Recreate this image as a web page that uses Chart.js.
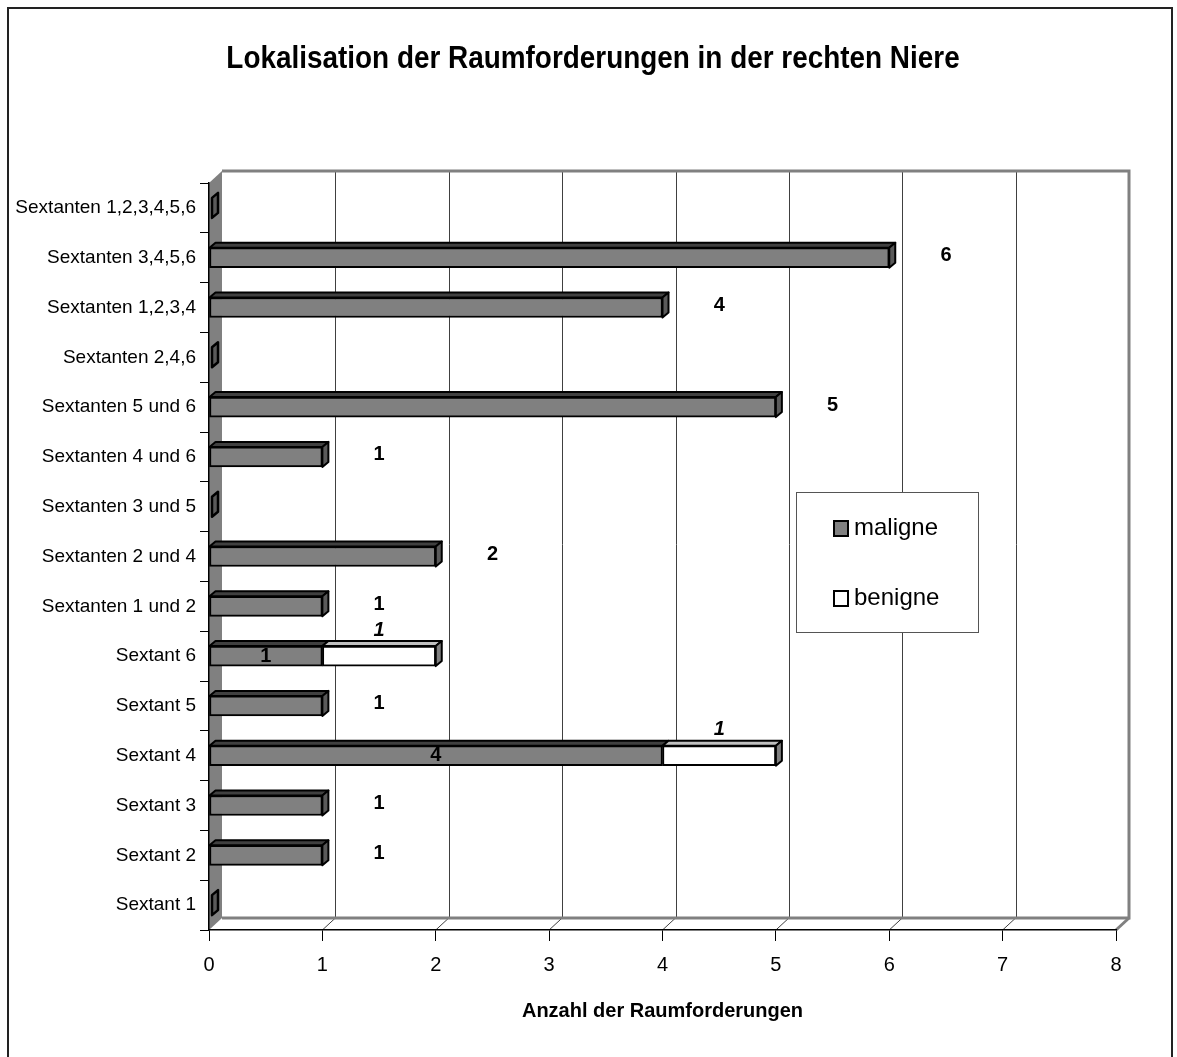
<!DOCTYPE html>
<html><head><meta charset="utf-8">
<script src="https://cdn.jsdelivr.net/npm/chart.js@4.4.0/dist/chart.umd.min.js"></script>
<style>html,body{margin:0;padding:0;background:#fff}#wrap{width:1177px;height:1057px;position:relative}canvas{display:block}</style>
</head><body><div id="wrap"><canvas id="c" width="1177" height="1057"></canvas></div>
<script>
// ---- data ----
const categories = ["Sextant 1","Sextant 2","Sextant 3","Sextant 4","Sextant 5","Sextant 6",
  "Sextanten 1 und 2","Sextanten 2 und 4","Sextanten 3 und 5","Sextanten 4 und 6","Sextanten 5 und 6",
  "Sextanten 2,4,6","Sextanten 1,2,3,4","Sextanten 3,4,5,6","Sextanten 1,2,3,4,5,6"];
const maligne = [0,1,1,4,1,1,1,2,0,1,5,0,4,6,0];
const benigne = [0,0,0,1,0,1,0,0,0,0,0,0,0,0,0];
const xTicks = [0,1,2,3,4,5,6,7,8];
const seriesNames = ["maligne","benigne"];
const chartTitle = "Lokalisation der Raumforderungen in der rechten Niere";
const xAxisTitle = "Anzahl der Raumforderungen";

// ---- style ----
const FONT = "'Liberation Sans', Arial, Helvetica, sans-serif";
const FRONT = ['#808080', '#ffffff'];
const TOP = ['#404040', '#c0c0c0'];
const SIDE = ['#5a5a5a', '#808080'];
const D = {dx: 13, dy: 12};   // chart depth
const B = {dx: 6, dy: 5};     // bar depth

function poly(ctx, pts, fill, stroke, lw) {
  ctx.beginPath();
  pts.forEach((p, i) => i ? ctx.lineTo(p[0], p[1]) : ctx.moveTo(p[0], p[1]));
  ctx.closePath();
  if (fill) { ctx.fillStyle = fill; ctx.fill(); }
  if (stroke) { ctx.strokeStyle = stroke; ctx.lineWidth = lw || 1; ctx.lineJoin = 'round'; ctx.stroke(); }
}
function line(ctx, x1, y1, x2, y2) { ctx.beginPath(); ctx.moveTo(x1, y1); ctx.lineTo(x2, y2); ctx.stroke(); }

const threeD = {
  id: 'threeD',
  beforeDraw(chart) {
    const ctx = chart.ctx, a = chart.chartArea, xs = chart.scales.x;
    ctx.save();
    ctx.fillStyle = '#fff'; ctx.fillRect(0, 0, chart.width, chart.height);
    ctx.strokeStyle = '#222'; ctx.lineWidth = 2; ctx.strokeRect(8, 8, 1164, 1060);
    // title (horizontally condensed like the original)
    ctx.save();
    ctx.translate(593, 59);
    ctx.scale(0.9, 1);
    ctx.fillStyle = '#000'; ctx.font = 'bold 31px ' + FONT;
    ctx.textAlign = 'center'; ctx.textBaseline = 'middle';
    ctx.fillText(chartTitle, 0, 0);
    ctx.restore();
    // back wall grid + floor grid
    ctx.strokeStyle = '#404040'; ctx.lineWidth = 1;
    xTicks.forEach(v => {
      if (v === 0) return;
      const px = xs.getPixelForValue(v);
      const bx = Math.round(px + D.dx) + 0.5;
      line(ctx, bx, a.top - D.dy, bx, a.bottom - D.dy);
      line(ctx, px, a.bottom, px + D.dx, a.bottom - D.dy);
    });
    // wall/floor borders
    ctx.strokeStyle = '#808080'; ctx.lineWidth = 3;
    ctx.beginPath();
    ctx.moveTo(a.left + D.dx, a.top - D.dy);
    ctx.lineTo(a.right + D.dx, a.top - D.dy);
    ctx.lineTo(a.right + D.dx, a.bottom - D.dy);
    ctx.lineTo(a.left + D.dx, a.bottom - D.dy);
    ctx.stroke();
    line(ctx, a.right, a.bottom, a.right + D.dx, a.bottom - D.dy);
    // left wall
    poly(ctx, [[a.left, a.top], [a.left + D.dx, a.top - D.dy], [a.left + D.dx, a.bottom - D.dy], [a.left, a.bottom]], '#808080');
    ctx.restore();
  },
  afterDatasetsDraw(chart) {
    const ctx = chart.ctx, xs = chart.scales.x;
    const metas = chart.data.datasets.map((d, i) => chart.getDatasetMeta(i));
    ctx.save();
    for (let i = 0; i < categories.length; i++) {
      const segs = [];
      chart.data.datasets.forEach((ds, di) => {
        if (ds.data[i] > 0) segs.push({di, p: metas[di].data[i].getProps(['x', 'y', 'base', 'height'], true)});
      });
      if (!segs.length) {
        const p = metas[0].data[i].getProps(['x', 'y', 'height'], true);
        const x0 = p.x + 3, yT = p.y - p.height / 2, yB = p.y + p.height / 2;
        poly(ctx, [[x0, yT], [x0 + B.dx, yT - B.dy], [x0 + B.dx, yB - B.dy], [x0, yB]], SIDE[0], '#000', 2.5);
        continue;
      }
      segs.forEach(s => {
        const p = s.p, yT = p.y - p.height / 2;
        const x0 = Math.min(p.base, p.x), x1 = Math.max(p.base, p.x);
        poly(ctx, [[x0, yT], [x0 + B.dx, yT - B.dy], [x1 + B.dx, yT - B.dy], [x1, yT]], TOP[s.di], '#000', 2);
      });
      const last = segs[segs.length - 1], p = last.p;
      const yT = p.y - p.height / 2, yB = p.y + p.height / 2, x1 = Math.max(p.base, p.x);
      poly(ctx, [[x1, yT], [x1 + B.dx, yT - B.dy], [x1 + B.dx, yB - B.dy], [x1, yB]], SIDE[last.di], '#000', 2);
    }
    // data labels
    ctx.fillStyle = '#000'; ctx.textAlign = 'center'; ctx.textBaseline = 'middle';
    for (let i = 0; i < categories.length; i++) {
      const m = maligne[i], b = benigne[i];
      const y = chart.scales.y.getPixelForValue(i);
      if (m > 0 && b === 0) {
        ctx.font = 'bold 20px ' + FONT;
        ctx.fillText(String(m), xs.getPixelForValue(m + 0.5), y - 2);
      } else if (m > 0 && b > 0) {
        ctx.font = 'bold 20px ' + FONT;
        ctx.fillText(String(m), xs.getPixelForValue(m / 2), y);
        ctx.font = 'italic bold 20px ' + FONT;
        ctx.fillText(String(b), xs.getPixelForValue(m + b / 2), y - 26);
      }
    }
    ctx.restore();
  },
  afterDraw(chart) {
    const ctx = chart.ctx;
    ctx.save();
    const bx = 796, by = 492, bw = 182, bh = 140;
    ctx.fillStyle = '#fff'; ctx.fillRect(bx, by, bw, bh);
    ctx.strokeStyle = '#555'; ctx.lineWidth = 1; ctx.strokeRect(bx + 0.5, by + 0.5, bw, bh);
    chart.data.datasets.forEach((ds, di) => {
      const cy = by + 36 + di * 70;
      ctx.fillStyle = ds.backgroundColor; ctx.fillRect(834, cy - 7, 14, 15);
      ctx.strokeStyle = '#000'; ctx.lineWidth = 2; ctx.strokeRect(834, cy - 7, 14, 15);
      ctx.fillStyle = '#000'; ctx.font = '24px ' + FONT; ctx.textAlign = 'left'; ctx.textBaseline = 'middle';
      ctx.fillText(ds.label, 854, cy);
    });
    ctx.restore();
  }
};

new Chart(document.getElementById('c'), {
  type: 'bar',
  data: {
    labels: categories,
    datasets: [
      {label: seriesNames[0], data: maligne, backgroundColor: FRONT[0], borderColor: '#000', borderWidth: 2, borderSkipped: false, barThickness: 20},
      {label: seriesNames[1], data: benigne, backgroundColor: FRONT[1], borderColor: '#000', borderWidth: 2, borderSkipped: false, barThickness: 20}
    ]
  },
  options: {
    indexAxis: 'y',
    responsive: false,
    animation: false,
    devicePixelRatio: 1,
    layout: {padding: {left: 0, right: 61, top: 183, bottom: 0}},
    plugins: {
      legend: {display: false},
      tooltip: {enabled: false},
      title: {display: false}
    },
    scales: {
      x: {
        type: 'linear', stacked: true, min: 0, max: 8,
        afterBuildTicks: s => { s.ticks = xTicks.map(v => ({value: v})); },
        ticks: {font: {family: FONT, size: 20}, color: '#000', padding: 12},
        grid: {drawOnChartArea: false, drawTicks: true, tickLength: 11, color: '#000', lineWidth: 1},
        border: {display: true, color: '#000', width: 1.5},
        title: {display: true, text: xAxisTitle, color: '#000', font: {family: FONT, size: 20, weight: 'bold'}, padding: {top: 0, bottom: 34}},
        afterFit: s => { s.height = 127; }
      },
      y: {
        type: 'category', stacked: true, reverse: true,
        ticks: {font: {family: FONT, size: 19}, color: '#000', padding: 4, autoSkip: false},
        grid: {drawOnChartArea: false, drawTicks: true, tickLength: 9, offset: true, color: '#000'},
        border: {display: true, color: '#000', width: 1.5},
        afterFit: s => { s.width = 209; }
      }
    }
  },
  plugins: [threeD]
});
</script></body></html>
